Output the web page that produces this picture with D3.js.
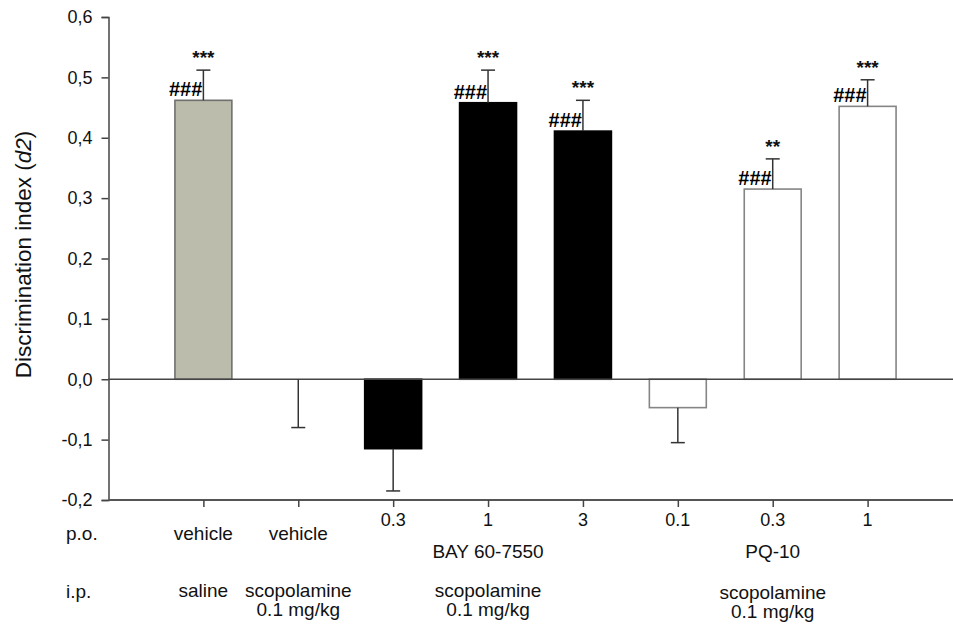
<!DOCTYPE html>
<html>
<head>
<meta charset="utf-8">
<script src="https://cdn.jsdelivr.net/npm/d3@7"></script>
<style>
  html, body { margin: 0; padding: 0; background: #fff; }
  svg { display: block; font-family: "Liberation Sans", Arial, sans-serif; }
</style>
</head>
<body>
<svg id="chart" width="953" height="626"></svg>
<script>
// ---- data ----
const groups   = ["saline/vehicle", "scop/vehicle", "BAY 0.3", "BAY 1", "BAY 3", "PQ 0.1", "PQ 0.3", "PQ 1"];
const means    = [0.462, 0.000, -0.115, 0.458, 0.411, -0.047, 0.315, 0.452];
const errEnds  = [0.512, -0.080, -0.185, 0.512, 0.462, -0.105, 0.365, 0.496];
const fills    = ["#bbbcab", "#ffffff", "#000000", "#000000", "#000000", "#ffffff", "#ffffff", "#ffffff"];
const strokes  = ["#707070", "#707070", "#000000", "#000000", "#000000", "#858585", "#858585", "#858585"];
const stars    = ["***", "", "", "***", "***", "", "**", "***"];
const hashes   = ["###", "", "", "###", "###", "", "###", "###"];
const poLabels = ["vehicle", "vehicle", "0.3", "1", "3", "0.1", "0.3", "1"];
const yTicks   = [-0.2, -0.1, 0.0, 0.1, 0.2, 0.3, 0.4, 0.5, 0.6];
const drugGroups = [{label: "BAY 60-7550", at: 3}, {label: "PQ-10", at: 6}];
const ipGroups = [
  {lines: ["saline"], at: 0},
  {lines: ["scopolamine", "0.1 mg/kg"], at: 1},
  {lines: ["scopolamine", "0.1 mg/kg"], at: 3},
  {lines: ["scopolamine", "0.1 mg/kg"], at: 6, shift: 2}
];

// ---- layout ----
const svg = d3.select("#chart");
const x = d3.scaleLinear().domain([-1, 7.9]).range([108.5, 953]);
const y = d3.scaleLinear().domain([-0.2, 0.6]).range([500, 17]);
const step = x(1) - x(0);
const barW = step * 0.6;
const axisColor = "#444";

// y axis
const yAxis = d3.axisLeft(y).tickValues(yTicks).tickSize(7).tickPadding(9)
  .tickFormat(d => d3.format(".1f")(d).replace(".", ",").replace("−", "-"));
const yg = svg.append("g").attr("transform", `translate(${x(-1)},0)`).call(yAxis);
yg.select(".domain").attr("stroke", axisColor).attr("stroke-width", 1.5);
yg.selectAll(".tick line").attr("stroke", axisColor).attr("stroke-width", 1.5);
yg.selectAll(".tick text").attr("font-size", 18).attr("fill", "#111")
  .attr("font-family", "Liberation Sans, Arial, sans-serif");

// bottom axis with ticks at category centers
const xAxis = d3.axisBottom(x).tickValues(d3.range(groups.length)).tickSize(7).tickFormat("");
const xg = svg.append("g").attr("transform", `translate(0,${y(-0.2)})`).call(xAxis);
xg.select(".domain").attr("stroke", "#555").attr("stroke-width", 2).attr("d", `M${x(-1)},0H${x(7.9)}`);
xg.selectAll(".tick line").attr("stroke", axisColor).attr("stroke-width", 1.5);

// bars
const data = groups.map((g, i) => ({i, g, m: means[i], e: errEnds[i]}));
svg.append("g").selectAll("rect").data(data.filter(d => d.m !== 0)).join("rect")
  .attr("x", d => x(d.i) - barW / 2)
  .attr("width", barW)
  .attr("y", d => y(Math.max(0, d.m)))
  .attr("height", d => Math.abs(y(d.m) - y(0)))
  .attr("fill", d => fills[d.i])
  .attr("stroke", d => strokes[d.i])
  .attr("stroke-width", 1.6);

// zero line
svg.append("line")
  .attr("x1", x(-1)).attr("x2", x(7.9))
  .attr("y1", y(0)).attr("y2", y(0))
  .attr("stroke", axisColor).attr("stroke-width", 1.5);

// error bars
const eg = svg.append("g").attr("stroke", "#333").attr("stroke-width", 1.5);
eg.selectAll("line.v").data(data).join("line").attr("class", "v")
  .attr("x1", d => x(d.i)).attr("x2", d => x(d.i))
  .attr("y1", d => y(d.m)).attr("y2", d => y(d.e));
eg.selectAll("line.c").data(data).join("line").attr("class", "c")
  .attr("x1", d => x(d.i) - 7).attr("x2", d => x(d.i) + 7)
  .attr("y1", d => y(d.e)).attr("y2", d => y(d.e));

// significance marks
svg.append("g").selectAll("text").data(data.filter(d => stars[d.i])).join("text")
  .attr("x", d => x(d.i))
  .attr("y", d => y(d.e) - 6)
  .attr("text-anchor", "middle")
  .attr("font-size", 19)
  .attr("font-weight", "bold")
  .attr("fill", "#111")
  .text(d => stars[d.i]);

svg.append("g").selectAll("text").data(data.filter(d => hashes[d.i])).join("text")
  .attr("x", d => x(d.i) - 1)
  .attr("y", d => y(d.m) - 4)
  .attr("text-anchor", "end")
  .attr("font-size", 20)
  .attr("font-weight", "bold")
  .attr("fill", "#000")
  .text(d => hashes[d.i]);

// y title
const yt = svg.append("text")
  .attr("transform", `translate(31,${(y(0.6) + y(-0.2)) / 2 - 4}) rotate(-90)`)
  .attr("text-anchor", "middle")
  .attr("font-size", 22.5)
  .attr("fill", "#111");
yt.append("tspan").text("Discrimination index (");
yt.append("tspan").attr("font-style", "italic").text("d2");
yt.append("tspan").text(")");

// bottom labels
const lab = svg.append("g").attr("fill", "#111").attr("font-size", 19);
lab.append("text").attr("x", 66).attr("y", 540).text("p.o.");
lab.append("text").attr("x", 66).attr("y", 598).text("i.p.");

lab.selectAll("text.po").data(poLabels).join("text").attr("class", "po")
  .attr("x", (d, i) => x(i))
  .attr("y", d => isNaN(+d) ? 540 : 526)
  .attr("text-anchor", "middle")
  .attr("font-size", d => isNaN(+d) ? 19 : 18)
  .text(d => d);

lab.selectAll("text.drug").data(drugGroups).join("text").attr("class", "drug")
  .attr("x", d => x(d.at)).attr("y", 558)
  .attr("text-anchor", "middle")
  .text(d => d.label);

ipGroups.forEach(g => {
  g.lines.forEach((t, k) => {
    lab.append("text")
      .attr("x", x(g.at))
      .attr("y", 597 + (g.shift || 0) + k * 19)
      .attr("text-anchor", "middle")
      .text(t);
  });
});
</script>
</body>
</html>
